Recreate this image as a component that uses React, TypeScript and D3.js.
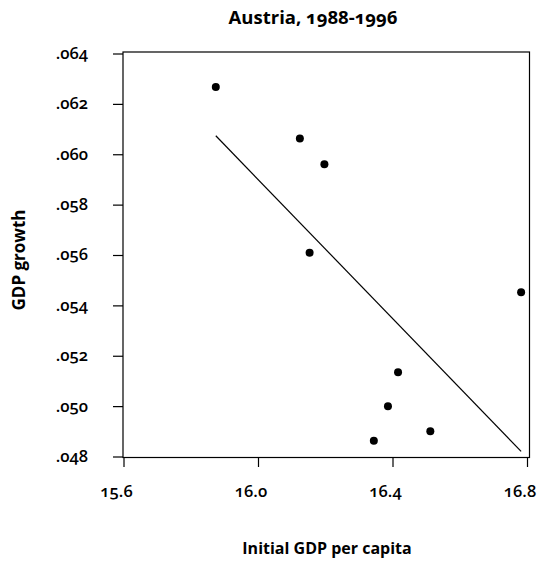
import React from "react";
import * as d3 from "d3";

const title = "Austria, 1988-1996";
const xLabel = "Initial GDP per capita";
const yLabel = "GDP growth";
const initialGdp = [15.873, 16.123, 16.196, 16.152, 16.781, 16.415, 16.385, 16.511, 16.343];
const gdpGrowth = [0.06269, 0.06065, 0.05962, 0.05611, 0.05454, 0.05136, 0.05001, 0.04902, 0.04865];
const xTicks = [15.6, 16.0, 16.4, 16.8];
const yTicks = [0.048, 0.05, 0.052, 0.054, 0.056, 0.058, 0.06, 0.062, 0.064];

const W = 539;
const H = 567;
const FONT = "'Open Sans', sans-serif";

export default function App() {
  const x = d3.scaleLinear().domain([15.6, 16.8]).range([124, 527.5]);
  const y = d3.scaleLinear().domain([0.048, 0.064]).range([457, 54]);

  const mx = d3.mean(initialGdp)!;
  const my = d3.mean(gdpGrowth)!;
  let sxy = 0, sxx = 0;
  initialGdp.forEach((v, i) => {
    sxy += (v - mx) * (gdpGrowth[i] - my);
    sxx += (v - mx) * (v - mx);
  });
  const slope = sxy / sxx;
  const icpt = my - slope * mx;
  const [xmin, xmax] = d3.extent(initialGdp) as [number, number];
  const fit = d3.line<number>().x((d) => x(d)).y((d) => y(icpt + slope * d));

  const boxL = 123, boxR = 529.5, boxT = 52, boxB = 457.5;
  const yFmt = (v: number) => d3.format(".3f")(v).replace(/^0/, "");
  const xFmt = d3.format(".1f");
  const onum = { fontVariantNumeric: "oldstyle-nums" } as React.CSSProperties;

  return (
    <svg width={W} height={H} style={{ position: "absolute", left: 0, top: 0, background: "#fff" }}
      fontFamily={FONT}>
      <rect x={0} y={0} width={W} height={H} fill="#fff" />
      <text x={313} y={24} textAnchor="middle" fontSize={18.5} fontWeight={700} style={onum}>{title}</text>
      <rect x={boxL} y={boxT} width={boxR - boxL} height={boxB - boxT} fill="none" stroke="#000" strokeWidth={1.2} />
      {yTicks.map((t) => (
        <g key={t}>
          <line x1={113} x2={boxL} y1={y(t)} y2={y(t)} stroke="#000" strokeWidth={1.2} />
          <text x={88} y={y(t)} dy="0.3em" textAnchor="end" fontSize={16.5} fontWeight={600} style={onum}>{yFmt(t)}</text>
        </g>
      ))}
      {xTicks.map((t) => (
        <g key={t}>
          <line x1={x(t)} x2={x(t)} y1={boxB} y2={467} stroke="#000" strokeWidth={1.2} />
          <text x={x(t) - 7.5} y={497} textAnchor="middle" fontSize={16.5} fontWeight={600} style={onum}>{xFmt(t)}</text>
        </g>
      ))}
      <path d={fit([xmin, xmax]) || ""} fill="none" stroke="#000" strokeWidth={1.2} />
      {initialGdp.map((v, i) => (
        <circle key={i} cx={x(v)} cy={y(gdpGrowth[i])} r={4} fill="#000" />
      ))}
      <text x={327} y={554} textAnchor="middle" fontSize={16} fontWeight={700}>{xLabel}</text>
      <text transform={`translate(25,260) rotate(-90)`} textAnchor="middle" fontSize={17} fontWeight={700}>{yLabel}</text>
    </svg>
  );
}
